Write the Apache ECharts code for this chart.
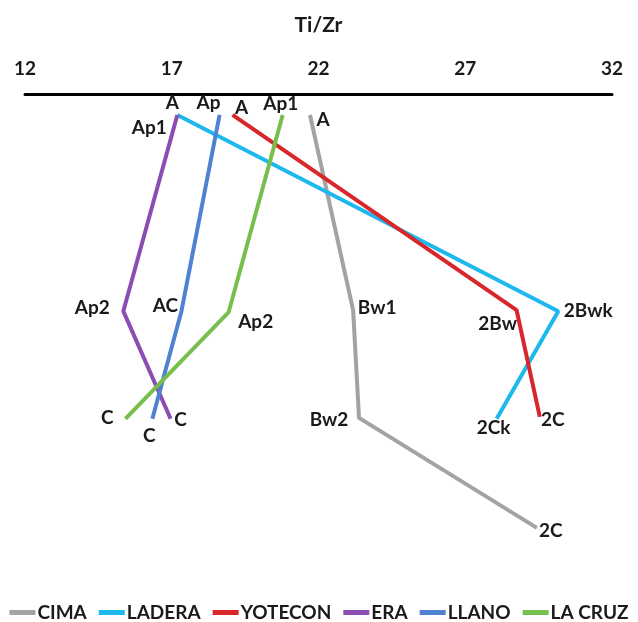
<!DOCTYPE html>
<html>
<head>
<meta charset="utf-8">
<script src="https://cdn.jsdelivr.net/npm/echarts@6/dist/echarts.min.js"></script>
<style>html,body{margin:0;padding:0;background:#fff}#c{width:638px;height:622px}</style>
</head>
<body>
<div id="c"></div>
<script>
// Ti/Zr values and depth positions (relative depth units) per profile
const seriesNames = ['CIMA', 'LADERA', 'YOTECON', 'ERA', 'LLANO', 'LA CRUZ'];
const xTicks = [12, 17, 22, 27, 32];

const cimaHorizons = ['A', 'Bw1', 'Bw2', '2C'];
const cimaTiZr = [21.71, 23.18, 23.38, 29.44];
const cimaDepth = [4.5, 46.4, 69.5, 93.1];

const laderaHorizons = ['A', '2Bwk', '2Ck'];
const laderaTiZr = [17.19, 30.17, 28.07];
const laderaDepth = [4.5, 46.6, 69.7];

const yotHorizons = ['A', '2Bw', '2C'];
const yotTiZr = [19.07, 28.75, 29.54];
const yotDepth = [4.5, 46.4, 69.3];

const eraHorizons = ['Ap1', 'Ap2', 'C'];
const eraTiZr = [17.19, 15.35, 16.96];
const eraDepth = [4.5, 46.6, 69.7];

const llanoHorizons = ['Ap', 'AC', 'C'];
const llanoTiZr = [18.63, 17.33, 16.34];
const llanoDepth = [4.5, 46.6, 69.7];

const cruzHorizons = ['Ap1', 'Ap2', 'C'];
const cruzTiZr = [20.78, 18.94, 15.42];
const cruzDepth = [4.5, 46.8, 69.7];

const colors = ['#a3a3a3', '#1db8ee', '#d8262b', '#8c4db3', '#4f82d1', '#76bf4d'];

// label placement (style, not data): [dx, dy] offsets per point
const labelOffsets = {
  'CIMA': [[13, 5], [24, -2], [-30, 2], [14, 3]],
  'LADERA': [[-5, -12], [30, 0], [-3, 9]],
  'YOTECON': [[9, -7], [-19, 14], [13, 3]],
  'ERA': [[-28, 13], [-31, -3], [10, 1]],
  'LLANO': [[-11, -12], [-16, -5], [-3, 17]],
  'LA CRUZ': [[-2, -11], [27, 10], [-18, -1]]
};

const profiles = [
  [cimaHorizons, cimaTiZr, cimaDepth],
  [laderaHorizons, laderaTiZr, laderaDepth],
  [yotHorizons, yotTiZr, yotDepth],
  [eraHorizons, eraTiZr, eraDepth],
  [llanoHorizons, llanoTiZr, llanoDepth],
  [cruzHorizons, cruzTiZr, cruzDepth]
];

const labelFont = { fontFamily: 'Lato', fontWeight: 'bold', fontSize: 19, color: '#1a1a1a' };

const series = profiles.map(function (p, i) {
  const name = seriesNames[i];
  return {
    name: name,
    type: 'line',
    color: colors[i],
    symbol: 'circle',
    symbolSize: 0,
    showSymbol: true,
    lineStyle: { width: 4, color: colors[i] },
    itemStyle: { color: colors[i] },
    label: Object.assign({ show: true, position: 'inside', formatter: function (d) { return p[0][d.dataIndex]; } }, labelFont),
    emphasis: { disabled: true },
    animation: false,
    data: p[1].map(function (v, k) {
      return { value: [v, p[2][k]], label: { offset: labelOffsets[name][k] } };
    })
  };
});

const chart = echarts.init(document.getElementById('c'));
chart.setOption({
  animation: false,
  grid: { left: 25, right: 26, top: 94, height: 466 },
  xAxis: {
    type: 'value',
    position: 'top',
    min: 12, max: 32, interval: 5,
    name: 'Ti/Zr',
    nameLocation: 'middle',
    nameGap: 58,
    nameTextStyle: Object.assign({}, labelFont, { fontSize: 21 }),
    axisLine: { show: true, lineStyle: { color: '#000', width: 3 } },
    axisTick: { show: false },
    splitLine: { show: false },
    axisLabel: Object.assign({ margin: 16, formatter: function (v) { return xTicks.indexOf(v) >= 0 ? String(v) : ''; } }, labelFont)
  },
  yAxis: {
    type: 'value', inverse: true, min: 0, max: 100, show: false
  },
  legend: {
    bottom: 0,
    padding: 0,
    left: 'center',
    icon: 'rect',
    itemWidth: 26,
    itemHeight: 5,
    itemGap: 12,
    data: seriesNames,
    textStyle: Object.assign({}, labelFont, { padding: [0, 0, 0, -3] })
  },
  series: series
});
</script>
</body>
</html>
